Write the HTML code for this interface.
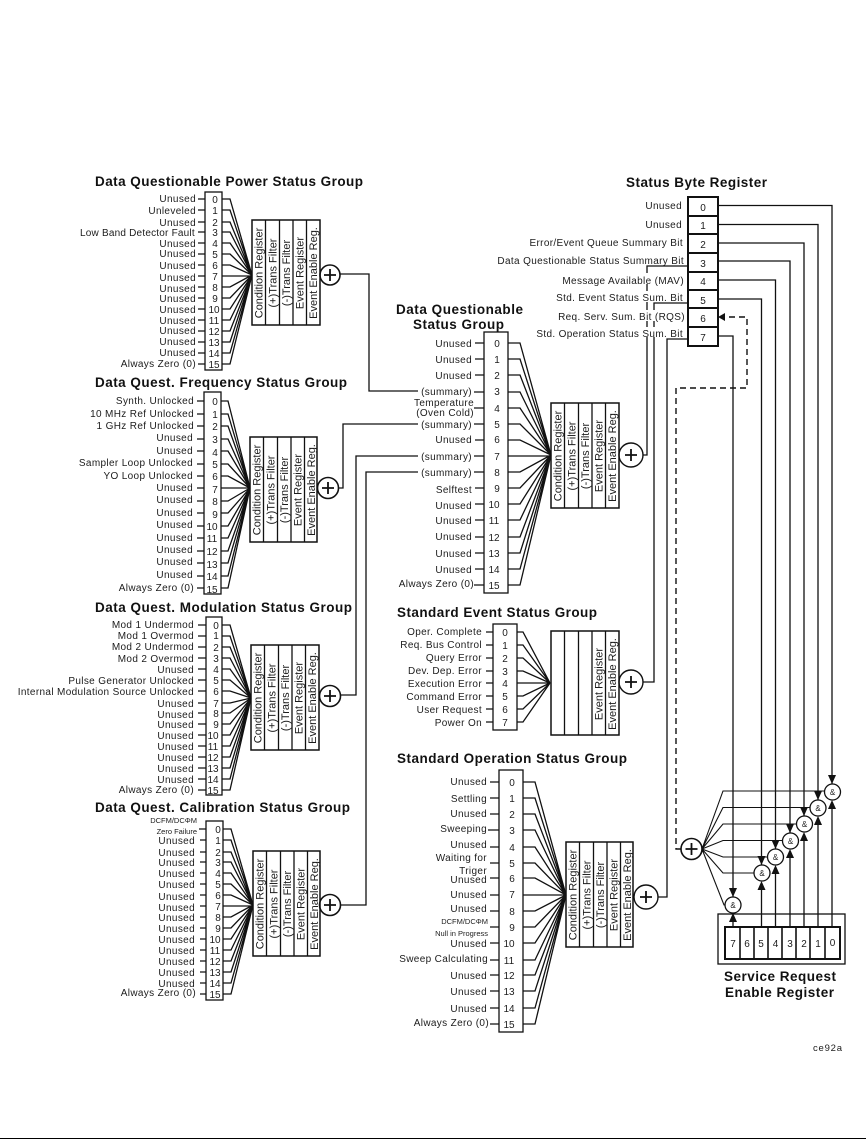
<!DOCTYPE html>
<html><head><meta charset="utf-8"><style>
html,body{margin:0;padding:0;background:#fff}
svg{display:block}
text{font-family:"Liberation Sans",sans-serif;fill:#1c1c1c}
.t{font-size:13.5px;font-weight:bold;fill:#111}
.l{font-size:10px;letter-spacing:.35px;text-anchor:end}
.s{font-size:7.5px;text-anchor:end}
.d{font-size:10px;text-anchor:middle}
.b{font-size:11px;text-anchor:middle}
.a{font-size:8px;text-anchor:middle}
path,line,rect,circle{fill:none;stroke:#111;stroke-width:1.3}
.k{stroke-width:2}
polygon{fill:#111}
</style></head><body>
<svg width="866" height="1139" viewBox="0 0 866 1139" xmlns="http://www.w3.org/2000/svg">
<!-- titles -->
<text class="t" x="95" y="186" textLength="268">Data Questionable Power Status Group</text>
<text class="t" x="95" y="387" textLength="252">Data Quest. Frequency Status Group</text>
<text class="t" x="95" y="612" textLength="257">Data Quest. Modulation Status Group</text>
<text class="t" x="95" y="812" textLength="255">Data Quest. Calibration Status Group</text>
<text class="t" x="396" y="314" textLength="127">Data Questionable</text>
<text class="t" x="413" y="329" textLength="91">Status Group</text>
<text class="t" x="397" y="617" textLength="200">Standard Event Status Group</text>
<text class="t" x="397" y="763" textLength="230">Standard Operation Status Group</text>
<text class="t" x="626" y="187" textLength="141">Status Byte Register</text>
<text class="t" x="724" y="981" textLength="112">Service Request</text>
<text class="t" x="725" y="997" textLength="109">Enable Register</text>
<text x="813" y="1051" font-size="9.5" textLength="29">ce92a</text>

<!-- Power group -->
<rect x="205" y="192" width="17" height="178"/>
<path d="M222 199H230L252 275M222 210H230L252 275M222 222H230L252 275M222 232H230L252 275M222 243H230L252 275M222 254H230L252 275M222 265H230L252 275M222 276H252M222 287H230L252 275M222 298H230L252 275M222 309H230L252 275M222 320H230L252 275M222 331H230L252 275M222 342H230L252 275M222 353H230L252 275M222 364H230L252 275"/>
<path d="M198 199H205M198 210H205M198 222H205M198 232H205M198 243H205M198 254H205M198 265H205M198 276H205M198 287H205M198 298H205M198 309H205M198 320H205M198 331H205M198 342H205M198 353H205M198 364H205"/>
<g class="x">
<text class="l" x="196" y="202">Unused</text><text class="l" x="196" y="214">Unleveled</text><text class="l" x="196" y="226">Unused</text><text class="l" x="195" y="236" textLength="115">Low Band Detector Fault</text><text class="l" x="196" y="247">Unused</text><text class="l" x="196" y="257">Unused</text><text class="l" x="196" y="269">Unused</text><text class="l" x="196" y="281">Unused</text><text class="l" x="196" y="292">Unused</text><text class="l" x="196" y="302">Unused</text><text class="l" x="196" y="313">Unused</text><text class="l" x="196" y="324">Unused</text><text class="l" x="196" y="334">Unused</text><text class="l" x="196" y="345">Unused</text><text class="l" x="196" y="356">Unused</text><text class="l" x="196" y="367">Always Zero (0)</text>
</g>
<text class="d" x="215" y="203">0</text><text class="d" x="215" y="214">1</text><text class="d" x="215" y="226">2</text><text class="d" x="215" y="236">3</text><text class="d" x="215" y="247">4</text><text class="d" x="215" y="258">5</text><text class="d" x="215" y="269">6</text><text class="d" x="215" y="280">7</text><text class="d" x="215" y="291">8</text><text class="d" x="215" y="302">9</text><text class="d" x="214" y="313">10</text><text class="d" x="214" y="324">11</text><text class="d" x="214" y="335">12</text><text class="d" x="214" y="346">13</text><text class="d" x="214" y="357">14</text><text class="d" x="214" y="368">15</text>
<g transform="translate(252,220)"><rect width="68" height="105" class="k" style="stroke-width:1.5"/><path d="M13.5 0V105M27.5 0V105M41 0V105M54.5 0V105"/>
<text class="b" transform="translate(10.5,53) rotate(-90)">Condition Register</text><text class="b" transform="translate(24.5,53) rotate(-90)">(+)Trans Filter</text><text class="b" transform="translate(38,53) rotate(-90)">(-)Trans Filter</text><text class="b" transform="translate(51.5,53) rotate(-90)">Event Register</text><text class="b" transform="translate(65,53) rotate(-90)">Event Enable Reg.</text></g>
<circle cx="330" cy="275" r="10" style="stroke-width:1.6"/><path d="M324 275H336M330 269V281" style="stroke-width:1.8"/>
<path d="M340 274H369V391H418"/>

<!-- Frequency group -->
<rect x="204" y="392" width="17" height="202"/>
<path d="M221 401H228L250 488M221 414H228L250 488M221 426H228L250 488M221 439H228L250 488M221 451H228L250 488M221 464H228L250 488M221 476H228L250 488M221 488H250M221 501H228L250 488M221 513H228L250 488M221 526H228L250 488M221 538H228L250 488M221 551H228L250 488M221 563H228L250 488M221 576H228L250 488M221 588H228L250 488"/>
<path d="M197 401H204M197 414H204M197 426H204M197 439H204M197 451H204M197 464H204M197 476H204M197 488H204M197 501H204M197 513H204M197 526H204M197 538H204M197 551H204M197 563H204M197 576H204M197 588H204"/>
<text class="l" x="194" y="404">Synth. Unlocked</text><text class="l" x="194" y="417">10 MHz Ref Unlocked</text><text class="l" x="194" y="429">1 GHz Ref Unlocked</text><text class="l" x="193" y="441">Unused</text><text class="l" x="193" y="454">Unused</text><text class="l" x="193" y="466">Sampler Loop Unlocked</text><text class="l" x="193" y="479">YO Loop Unlocked</text><text class="l" x="193" y="491">Unused</text><text class="l" x="193" y="503">Unused</text><text class="l" x="193" y="516">Unused</text><text class="l" x="193" y="528">Unused</text><text class="l" x="193" y="541">Unused</text><text class="l" x="193" y="553">Unused</text><text class="l" x="193" y="565">Unused</text><text class="l" x="193" y="578">Unused</text><text class="l" x="194" y="591">Always Zero (0)</text>
<text class="d" x="215" y="405">0</text><text class="d" x="215" y="418">1</text><text class="d" x="215" y="430">2</text><text class="d" x="215" y="443">3</text><text class="d" x="215" y="456">4</text><text class="d" x="215" y="468">5</text><text class="d" x="215" y="480">6</text><text class="d" x="215" y="493">7</text><text class="d" x="215" y="505">8</text><text class="d" x="215" y="518">9</text><text class="d" x="212" y="530">10</text><text class="d" x="212" y="542">11</text><text class="d" x="212" y="555">12</text><text class="d" x="212" y="568">13</text><text class="d" x="212" y="580">14</text><text class="d" x="212" y="593">15</text>
<g transform="translate(250,437)"><rect width="67" height="105" style="stroke-width:1.5"/><path d="M13.5 0V105M27.5 0V105M41 0V105M54.5 0V105"/>
<text class="b" transform="translate(10.5,53) rotate(-90)">Condition Register</text><text class="b" transform="translate(24.5,53) rotate(-90)">(+)Trans Filter</text><text class="b" transform="translate(38,53) rotate(-90)">(-)Trans Filter</text><text class="b" transform="translate(51.5,53) rotate(-90)">Event Register</text><text class="b" transform="translate(65,53) rotate(-90)">Event Enable Reg.</text></g>
<circle cx="328" cy="488" r="10.5" style="stroke-width:1.6"/><path d="M322 488H334M328 482V494" style="stroke-width:1.8"/>
<path d="M338 488H343V424H418"/>

<!-- Modulation group -->
<rect x="206" y="617" width="16" height="178"/>
<path d="M222 625H230L251 698M222 636H230L251 698M222 647H230L251 698M222 658H230L251 698M222 669H230L251 698M222 680H230L251 698M222 691H230L251 698M222 703H230L251 698M222 713H230L251 698M222 724H230L251 698M222 735H230L251 698M222 746H230L251 698M222 757H230L251 698M222 768H230L251 698M222 779H230L251 698M222 790H230L251 698"/>
<path d="M198 625H206M198 636H206M198 647H206M198 658H206M198 669H206M198 680H206M198 691H206M198 703H206M198 713H206M198 724H206M198 735H206M198 746H206M198 757H206M198 768H206M198 779H206M198 790H206"/>
<text class="l" x="194" y="628">Mod 1 Undermod</text><text class="l" x="194" y="639">Mod 1 Overmod</text><text class="l" x="194" y="650">Mod 2 Undermod</text><text class="l" x="194" y="662">Mod 2 Overmod</text><text class="l" x="194" y="673">Unused</text><text class="l" x="194" y="684">Pulse Generator Unlocked</text><text class="l" x="194" y="695">Internal Modulation Source Unlocked</text><text class="l" x="194" y="707">Unused</text><text class="l" x="194" y="718">Unused</text><text class="l" x="194" y="728">Unused</text><text class="l" x="194" y="739">Unused</text><text class="l" x="194" y="750">Unused</text><text class="l" x="194" y="761">Unused</text><text class="l" x="194" y="772">Unused</text><text class="l" x="194" y="783">Unused</text><text class="l" x="194" y="793">Always Zero (0)</text>
<text class="d" x="216" y="629">0</text><text class="d" x="216" y="639">1</text><text class="d" x="216" y="651">2</text><text class="d" x="216" y="662">3</text><text class="d" x="216" y="673">4</text><text class="d" x="216" y="684">5</text><text class="d" x="216" y="695">6</text><text class="d" x="216" y="707">7</text><text class="d" x="216" y="717">8</text><text class="d" x="216" y="728">9</text><text class="d" x="213" y="739">10</text><text class="d" x="213" y="750">11</text><text class="d" x="213" y="761">12</text><text class="d" x="213" y="772">13</text><text class="d" x="213" y="783">14</text><text class="d" x="213" y="794">15</text>
<g transform="translate(251,645)"><rect width="68" height="105" style="stroke-width:1.5"/><path d="M13.5 0V105M27.5 0V105M41 0V105M54.5 0V105"/>
<text class="b" transform="translate(10.5,53) rotate(-90)">Condition Register</text><text class="b" transform="translate(24.5,53) rotate(-90)">(+)Trans Filter</text><text class="b" transform="translate(38,53) rotate(-90)">(-)Trans Filter</text><text class="b" transform="translate(51.5,53) rotate(-90)">Event Register</text><text class="b" transform="translate(65,53) rotate(-90)">Event Enable Reg.</text></g>
<circle cx="330" cy="696" r="10.5" style="stroke-width:1.6"/><path d="M324 696H336M330 690V702" style="stroke-width:1.8"/>
<path d="M341 695H356V456H418"/>

<!-- Calibration group -->
<rect x="206" y="821" width="17" height="179"/>
<path d="M223 829H231L253 905M223 840H231L253 905M223 852H231L253 905M223 862H231L253 905M223 873H231L253 905M223 884H231L253 905M223 895H231L253 905M223 906H253M223 917H231L253 905M223 928H231L253 905M223 939H231L253 905M223 950H231L253 905M223 961H231L253 905M223 972H231L253 905M223 983H231L253 905M223 994H231L253 905"/>
<path d="M199 829H206M200 840H206M200 852H206M200 862H206M200 873H206M200 884H206M200 895H206M200 906H206M200 917H206M200 928H206M200 939H206M200 950H206M200 961H206M200 972H206M200 983H206M200 994H206"/>
<text class="s" x="197" y="823">DCFM/DC&#934;M</text><text class="s" x="197" y="834">Zero Failure</text>
<text class="l" x="195" y="844">Unused</text><text class="l" x="195" y="856">Unused</text><text class="l" x="195" y="866">Unused</text><text class="l" x="195" y="877">Unused</text><text class="l" x="195" y="888">Unused</text><text class="l" x="195" y="900">Unused</text><text class="l" x="195" y="911">Unused</text><text class="l" x="195" y="921">Unused</text><text class="l" x="195" y="932">Unused</text><text class="l" x="195" y="943">Unused</text><text class="l" x="195" y="954">Unused</text><text class="l" x="195" y="965">Unused</text><text class="l" x="195" y="976">Unused</text><text class="l" x="195" y="987">Unused</text><text class="l" x="196" y="996">Always Zero (0)</text>
<text class="d" x="218" y="833">0</text><text class="d" x="218" y="844">1</text><text class="d" x="218" y="856">2</text><text class="d" x="218" y="866">3</text><text class="d" x="218" y="877">4</text><text class="d" x="218" y="888">5</text><text class="d" x="218" y="899">6</text><text class="d" x="218" y="910">7</text><text class="d" x="218" y="921">8</text><text class="d" x="218" y="932">9</text><text class="d" x="215" y="943">10</text><text class="d" x="215" y="954">11</text><text class="d" x="215" y="965">12</text><text class="d" x="215" y="976">13</text><text class="d" x="215" y="987">14</text><text class="d" x="215" y="998">15</text>
<g transform="translate(253,851)"><rect width="67" height="105" style="stroke-width:1.5"/><path d="M13.5 0V105M27.5 0V105M41 0V105M54.5 0V105"/>
<text class="b" transform="translate(10.5,53) rotate(-90)">Condition Register</text><text class="b" transform="translate(24.5,53) rotate(-90)">(+)Trans Filter</text><text class="b" transform="translate(38,53) rotate(-90)">(-)Trans Filter</text><text class="b" transform="translate(51.5,53) rotate(-90)">Event Register</text><text class="b" transform="translate(65,53) rotate(-90)">Event Enable Reg.</text></g>
<circle cx="330" cy="905" r="10.5" style="stroke-width:1.6"/><path d="M324 905H336M330 899V911" style="stroke-width:1.8"/>
<path d="M341 905H366V472H418"/>

<!-- Center questionable group -->
<rect x="484" y="332" width="24" height="261"/>
<path d="M508 343H520L551 455M508 359H520L551 455M508 375H520L551 455M508 392H520L551 455M508 408H520L551 455M508 424H520L551 455M508 440H520L551 455M508 456H551M508 472H520L551 455M508 488H520L551 455M508 504H520L551 455M508 520H520L551 455M508 537H520L551 455M508 553H520L551 455M508 569H520L551 455M508 585H520L551 455"/>
<path d="M475 343H484M475 359H484M475 375H484M474 392H484M474 408H484M474 424H484M475 440H484M474 456H484M474 472H484M475 488H484M475 504H484M475 520H484M475 537H484M475 553H484M475 569H484M474 585H484"/>
<text class="l" x="472" y="347">Unused</text><text class="l" x="472" y="363">Unused</text><text class="l" x="472" y="379">Unused</text><text class="l" x="472" y="395">(summary)</text><text class="l" x="474" y="406">Temperature</text><text class="l" x="474" y="416">(Oven Cold)</text><text class="l" x="472" y="428">(summary)</text><text class="l" x="472" y="443">Unused</text><text class="l" x="472" y="460">(summary)</text><text class="l" x="472" y="476">(summary)</text><text class="l" x="472" y="493">Selftest</text><text class="l" x="472" y="509">Unused</text><text class="l" x="472" y="524">Unused</text><text class="l" x="472" y="540">Unused</text><text class="l" x="472" y="557">Unused</text><text class="l" x="472" y="573">Unused</text><text class="l" x="474" y="587">Always Zero (0)</text>
<text class="d" x="497" y="347">0</text><text class="d" x="497" y="363">1</text><text class="d" x="497" y="379">2</text><text class="d" x="497" y="395">3</text><text class="d" x="497" y="412">4</text><text class="d" x="497" y="428">5</text><text class="d" x="497" y="443">6</text><text class="d" x="497" y="460">7</text><text class="d" x="497" y="476">8</text><text class="d" x="497" y="492">9</text><text class="d" x="494" y="508">10</text><text class="d" x="494" y="524">11</text><text class="d" x="494" y="541">12</text><text class="d" x="494" y="557">13</text><text class="d" x="494" y="573">14</text><text class="d" x="494" y="589">15</text>
<g transform="translate(551,403)"><rect width="68" height="105" style="stroke-width:1.5"/><path d="M13.5 0V105M27.5 0V105M41 0V105M54.5 0V105"/>
<text class="b" transform="translate(10.5,53) rotate(-90)">Condition Register</text><text class="b" transform="translate(24.5,53) rotate(-90)">(+)Trans Filter</text><text class="b" transform="translate(38,53) rotate(-90)">(-)Trans Filter</text><text class="b" transform="translate(51.5,53) rotate(-90)">Event Register</text><text class="b" transform="translate(65,53) rotate(-90)">Event Enable Reg.</text></g>
<circle cx="631" cy="455" r="12" style="stroke-width:1.4"/><path d="M625 455H637M631 449V461" style="stroke-width:1.8"/>
<path d="M643 455H647V266H688"/>

<!-- Standard Event -->
<rect x="493" y="624" width="24" height="106"/>
<path d="M517 632H523L550 683M517 645H523L550 683M517 658H523L550 683M517 671H523L550 683M517 683H550M517 696H523L550 683M517 709H523L550 683M517 722H523L550 683"/>
<path d="M486 632H493M486 645H493M486 658H493M486 671H493M486 683H493M486 696H493M486 709H493M486 722H493"/>
<text class="l" x="482" y="635">Oper. Complete</text><text class="l" x="482" y="648">Req. Bus Control</text><text class="l" x="482" y="661">Query Error</text><text class="l" x="482" y="674">Dev. Dep. Error</text><text class="l" x="482" y="687">Execution Error</text><text class="l" x="482" y="700">Command Error</text><text class="l" x="482" y="713">User Request</text><text class="l" x="482" y="726">Power On</text>
<text class="d" x="505" y="636">0</text><text class="d" x="505" y="649">1</text><text class="d" x="505" y="662">2</text><text class="d" x="505" y="675">3</text><text class="d" x="505" y="687">4</text><text class="d" x="505" y="700">5</text><text class="d" x="505" y="713">6</text><text class="d" x="505" y="726">7</text>
<g transform="translate(551,631)"><rect width="68" height="104" style="stroke-width:1.5"/><path d="M13.5 0V104M27.5 0V104M41 0V104M54.5 0V104"/>
<text class="b" transform="translate(51.5,53) rotate(-90)">Event Register</text><text class="b" transform="translate(65,53) rotate(-90)">Event Enable Reg.</text></g>
<circle cx="631" cy="682" r="12" style="stroke-width:1.4"/><path d="M625 682H637M631 676V688" style="stroke-width:1.8"/>
<path d="M643 682H654V303H688"/>

<!-- Standard Operation -->
<rect x="499" y="770" width="24" height="262"/>
<path d="M523 782H535L566 895M523 798H535L566 895M523 814H535L566 895M523 830H535L566 895M523 847H535L566 895M523 863H535L566 895M523 878H535L566 895M523 895H566M523 911H535L566 895M523 927H535L566 895M523 943H535L566 895M523 960H535L566 895M523 975H535L566 895M523 991H535L566 895M523 1008H535L566 895M523 1024H535L566 895"/>
<path d="M490 782H499M490 798H499M490 814H499M488 830H499M490 847H499M490 863H499M490 878H499M490 895H499M490 911H499M490 927H499M490 943H499M490 960H499M490 975H499M490 991H499M490 1008H499M490 1024H499"/>
<text class="l" x="487" y="785">Unused</text><text class="l" x="487" y="802">Settling</text><text class="l" x="487" y="817">Unused</text><text class="l" x="487" y="832">Sweeping</text><text class="l" x="487" y="848">Unused</text><text class="l" x="487" y="861">Waiting for</text><text class="l" x="487" y="874">Triger</text><text class="l" x="487" y="883">Unused</text><text class="l" x="487" y="898">Unused</text><text class="l" x="487" y="912">Unused</text><text class="s" x="488" y="924">DCFM/DC&#934;M</text><text class="s" x="488" y="936">Null in Progress</text><text class="l" x="487" y="947">Unused</text><text class="l" x="488" y="962">Sweep Calculating</text><text class="l" x="487" y="979">Unused</text><text class="l" x="487" y="995">Unused</text><text class="l" x="487" y="1012">Unused</text><text class="l" x="489" y="1026">Always Zero (0)</text>
<text class="d" x="512" y="786">0</text><text class="d" x="512" y="802">1</text><text class="d" x="512" y="818">2</text><text class="d" x="512" y="834">3</text><text class="d" x="512" y="851">4</text><text class="d" x="512" y="867">5</text><text class="d" x="512" y="882">6</text><text class="d" x="512" y="898">7</text><text class="d" x="512" y="915">8</text><text class="d" x="512" y="931">9</text><text class="d" x="509" y="947">10</text><text class="d" x="509" y="964">11</text><text class="d" x="509" y="979">12</text><text class="d" x="509" y="995">13</text><text class="d" x="509" y="1012">14</text><text class="d" x="509" y="1028">15</text>
<g transform="translate(566,842)"><rect width="67" height="105" style="stroke-width:1.5"/><path d="M13.5 0V105M27.5 0V105M41 0V105M54.5 0V105"/>
<text class="b" transform="translate(10.5,53) rotate(-90)">Condition Register</text><text class="b" transform="translate(24.5,53) rotate(-90)">(+)Trans Filter</text><text class="b" transform="translate(38,53) rotate(-90)">(-)Trans Filter</text><text class="b" transform="translate(51.5,53) rotate(-90)">Event Register</text><text class="b" transform="translate(65,53) rotate(-90)">Event Enable Reg.</text></g>
<circle cx="646" cy="897" r="12" style="stroke-width:1.4"/><path d="M640 897H652M646 891V903" style="stroke-width:1.8"/>
<path d="M658 897H667V339H688"/>

<!-- label gaps in Status Byte area -->
<rect x="645" y="273" width="12" height="11" style="fill:#fff;stroke:none"/>
<rect x="645" y="291" width="12" height="11" style="fill:#fff;stroke:none"/>
<rect x="645" y="310" width="12" height="11" style="fill:#fff;stroke:none"/>
<rect x="645" y="327" width="12" height="10" style="fill:#fff;stroke:none"/>

<!-- Status byte register -->
<rect x="688" y="197" width="30" height="149" class="k"/>
<path class="k" d="M688 216H718M688 234H718M688 253H718M688 272H718M688 290H718M688 308H718M688 327H718"/>
<text class="l" x="682" y="209">Unused</text><text class="l" x="682" y="228">Unused</text><text class="l" x="683" y="246">Error/Event Queue Summary Bit</text><text class="l" x="684" y="264">Data Questionable Status Summary Bit</text><text class="l" x="684" y="284">Message Available (MAV)</text><text class="l" x="683" y="301">Std. Event Status Sum. Bit</text><text class="l" x="685" y="320">Req. Serv. Sum. Bit (RQS)</text><text class="l" x="683" y="337">Std. Operation Status Sum. Bit</text>
<text class="d" x="703" y="211">0</text><text class="d" x="703" y="229">1</text><text class="d" x="703" y="248">2</text><text class="d" x="703" y="267">3</text><text class="d" x="703" y="285">4</text><text class="d" x="703" y="304">5</text><text class="d" x="703" y="322">6</text><text class="d" x="703" y="341">7</text>

<!-- bit lines to AND gates -->
<path d="M719 205.5H832V784M719 224.5H818V800M719 243H804V816M719 261H790V833M719 280H775.5V849M719 299H761.5V865M719 336H733V897" style="stroke-width:1.3"/>
<path d="M681 849H676V388H747V317H725" stroke-dasharray="6 4" style="stroke-width:1.4"/>
<polygon points="718,317 725,313 725,321"/>

<!-- AND gates and arrows -->
<circle cx="832.5" cy="792" r="8"/><text class="a" x="832.5" y="795">&amp;</text>
<circle cx="818" cy="808" r="8"/><text class="a" x="818" y="811">&amp;</text>
<circle cx="804.5" cy="824" r="8"/><text class="a" x="804.5" y="827">&amp;</text>
<circle cx="790.5" cy="841" r="8"/><text class="a" x="790.5" y="844">&amp;</text>
<circle cx="775.5" cy="857" r="8"/><text class="a" x="775.5" y="860">&amp;</text>
<circle cx="762" cy="873" r="8"/><text class="a" x="762" y="876">&amp;</text>
<circle cx="733" cy="905" r="8"/><text class="a" x="733" y="908">&amp;</text>
<polygon points="828,775 836,775 832,784"/><polygon points="814,791 822,791 818,800"/><polygon points="800,807 808,807 804,816"/><polygon points="786,824 794,824 790,833"/><polygon points="771.5,840 779.5,840 775.5,849"/><polygon points="757.5,856 765.5,856 761.5,865"/><polygon points="729,888 737,888 733,897"/>
<polygon points="832,800 828,809 836,809"/><polygon points="818,816 814,825 822,825"/><polygon points="804,832 800,841 808,841"/><polygon points="790,849 786,858 794,858"/><polygon points="775.5,865 771.5,874 779.5,874"/><polygon points="761.5,881 757.5,890 765.5,890"/><polygon points="733,913 729,922 737,922"/>
<path d="M832 809V927M818 825V927M804 841V927M790 858V927M775.5 874V927M761.5 890V927M733 922V927" style="stroke-width:1.3"/>

<!-- big OR -->
<circle cx="691.5" cy="849" r="10.5" style="stroke-width:1.6"/><path d="M685.5 849H697.5M691.5 843V855" style="stroke-width:1.8"/>
<path d="M702 849L723 791H825M702 849L723 807.5H810M702 849L723 824H796M702 849L723 840.5H782M702 849L723 857H767M702 849L723 873H754M702 849L724 905H725" style="stroke-width:1.1"/>

<!-- Service request enable -->
<rect x="718" y="914" width="127" height="50"/>
<rect x="725" y="927" width="115" height="32" class="k"/>
<path class="k" d="M740 927V959M754 927V959M768 927V959M782 927V959M796 927V959M810 927V959M825 927V959" style="stroke-width:1.6"/>
<text class="d" x="733" y="947">7</text><text class="d" x="747" y="947">6</text><text class="d" x="761" y="947">5</text><text class="d" x="775.5" y="947">4</text><text class="d" x="790" y="947">3</text><text class="d" x="804" y="947">2</text><text class="d" x="818" y="947">1</text><text class="d" x="832.5" y="946">0</text>

<rect x="0" y="1138" width="866" height="1" style="fill:#000;stroke:none"/>
</svg>
</body></html>
